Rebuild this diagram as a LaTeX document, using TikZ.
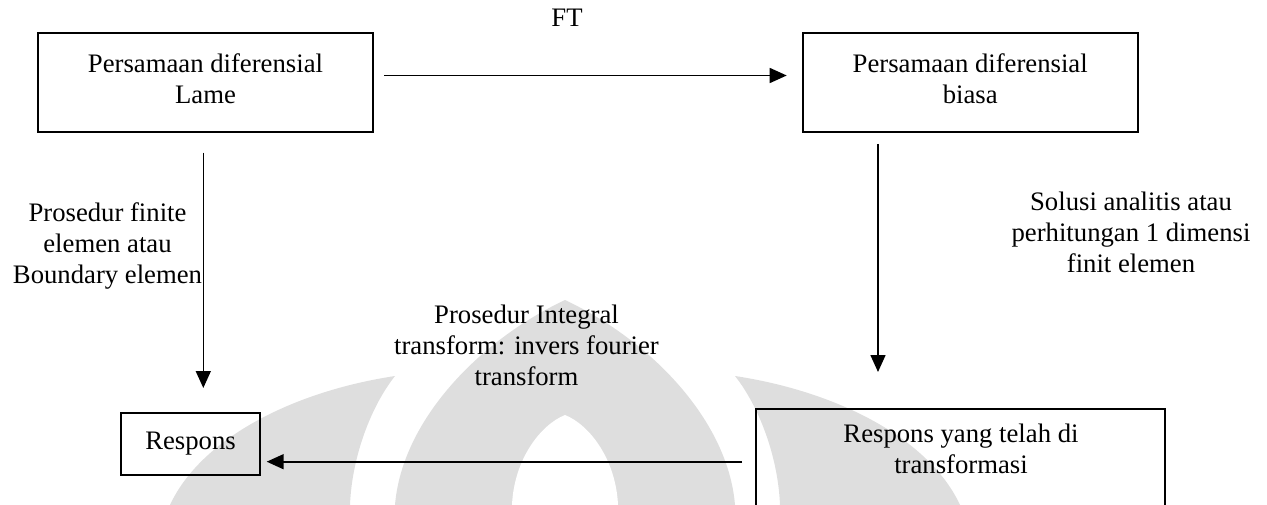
\documentclass[tikz,border=0pt]{standalone}
\usepackage{fontspec}
\setmainfont{Liberation Serif}
\usetikzlibrary{arrows.meta,calc}
\begin{document}
\begin{tikzpicture}[x=1pt,y=-1pt,
  every node/.style={inner sep=0pt,outer sep=0pt},
  txt/.style={font=\fontsize{26.7pt}{31pt}\selectfont,align=center,text depth=7pt},
  box/.style={draw,line width=1.8pt},
  arr/.style={line width=1.6pt,-{Triangle[length=17pt,width=15pt]}},
  wm/.style={fill=black!13}]
\useasboundingbox (0,0) rectangle (1267,505);
\clip (0,0) rectangle (1267,505);
% faint watermark
\fill[wm] (170,505) .. controls (200,440) and (290,392) .. (395,376)
          .. controls (372,405) and (352,455) .. (350,505) -- cycle;
\fill[wm] (960,505) .. controls (930,440) and (840,392) .. (735,376)
          .. controls (758,405) and (778,455) .. (780,505) -- cycle;
\fill[wm] (395,505) .. controls (402,420) and (480,340) .. (565,300)
          .. controls (650,340) and (728,420) .. (735,505) -- cycle;
\fill[white] (512,505) .. controls (514,460) and (540,425) .. (565,415)
          .. controls (590,425) and (616,460) .. (618,505) -- cycle;
% boxes
\node[box,txt,minimum width=335pt,minimum height=99pt] (lame) at (205.5,82.5) {Persamaan diferensial\\Lame};
\node[box,txt,minimum width=335pt,minimum height=99pt] (biasa) at (970.2,82.2) {Persamaan diferensial\\biasa};
\node[box,txt,minimum width=139pt,minimum height=62pt] (respons) at (190.5,444) {Respons};
\node[box,minimum width=409pt,minimum height=160pt] (trans) at (960.5,489.3) {};
\node[txt] (transtxt) at (961,452.4) {Respons yang telah di\\transformasi};
% labels
\node[txt] (ft) at (567,21) {FT};
\node[txt] (lbl1) at (107.5,246.4) {Prosedur finite\\elemen atau\\Boundary elemen};
\node[txt] (lbl2) at (1131,235.4) {Solusi analitis atau\\perhitungan 1 dimensi\\finit elemen};
\node[txt] (lbl3) at (526.5,348.4) {Prosedur Integral\\transform: invers fourier\\transform};
% connectors
\draw[arr] ($(lame.east)+(11,-7)$) -- ($(biasa.west)+(-16,-6.7)$);
\draw[arr] ($(lame.south)+(-2.2,20.7)$) -- ($(respons.north)+(12.8,-25)$);
\draw[arr] ($(biasa.south)+(-92.2,12.3)$) -- ($(trans.north)+(-82.5,-37.3)$);
\draw[arr] ($(trans.north west)+(-14,52.4)$) -- ($(respons.east)+(6.7,17.7)$);
\end{tikzpicture}
\end{document}
